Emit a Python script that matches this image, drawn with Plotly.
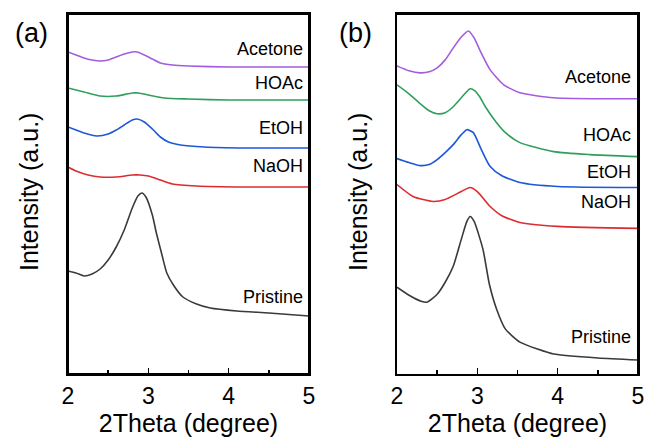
import plotly.graph_objects as go

W, H = 646, 443
names = ["Acetone", "HOAc", "EtOH", "NaOH", "Pristine"]
colors = ["#a35ce0", "#2f9e5e", "#1c58d8", "#dc2c30", "#3a3a3a"]

# ---- panel (a) data (2Theta, intensity a.u.) ----
a_acetone_x = [2.0, 2.1, 2.2, 2.3, 2.4, 2.5, 2.6, 2.7, 2.8, 2.86, 2.95, 3.05, 3.15, 3.3, 3.5, 4.0, 4.5, 5.0]
a_acetone_y = [322, 319, 316, 314, 313, 314, 317, 320, 322, 322, 319, 315, 311, 309, 308, 307, 307, 307]
a_hoac_x = [2.0, 2.2, 2.4, 2.6, 2.8, 2.88, 3.0, 3.2, 3.5, 4.0, 5.0]
a_hoac_y = [286, 282, 278, 278, 281, 281, 279, 276, 275, 274, 274]
a_etoh_x = [2.0, 2.1, 2.2, 2.36, 2.5, 2.6, 2.7, 2.8, 2.86, 2.95, 3.05, 3.15, 3.25, 3.4, 3.7, 4.2, 5.0]
a_etoh_y = [247, 244, 241, 238, 240, 244, 249, 254, 255, 252, 245, 237, 232, 229, 227, 226, 226]
a_naoh_x = [2.0, 2.1, 2.25, 2.4, 2.6, 2.8, 2.9, 3.0, 3.15, 3.3, 3.6, 4.2, 5.0]
a_naoh_y = [207, 203, 199, 197, 197, 199, 199, 198, 194, 190, 188, 187, 187]
a_pristine_x = [2.0, 2.1, 2.2, 2.3, 2.4, 2.5, 2.6, 2.7, 2.8, 2.87, 2.92, 2.97, 3.05, 3.1, 3.17, 3.23, 3.32, 3.43, 3.6, 3.77, 4.1, 4.5, 5.0]
a_pristine_y = [103, 101, 98, 100, 105, 114, 127, 144, 166, 178, 181, 177, 159, 141, 119, 101, 88, 77, 70, 66, 63, 61, 58]

# ---- panel (b) data ----
b_acetone_x = [2.0, 2.15, 2.29, 2.4, 2.5, 2.6, 2.7, 2.8, 2.89, 2.96, 3.03, 3.16, 3.33, 3.53, 3.95, 4.5, 5.0]
b_acetone_y = [309, 304, 302, 303, 307, 315, 327, 338, 344, 337, 325, 305, 290, 282, 277, 276, 276]
b_hoac_x = [2.0, 2.15, 2.29, 2.4, 2.5, 2.6, 2.7, 2.8, 2.91, 2.97, 3.03, 3.1, 3.24, 3.35, 3.53, 3.95, 4.4, 5.0]
b_hoac_y = [290, 281, 271, 264, 261, 262, 268, 277, 286, 284, 278, 268, 252, 242, 232, 223, 220, 218]
b_etoh_x = [2.0, 2.15, 2.29, 2.4, 2.5, 2.6, 2.7, 2.8, 2.87, 2.95, 3.05, 3.16, 3.3, 3.53, 4.0, 5.0]
b_etoh_y = [216, 212, 209, 210, 215, 222, 230, 240, 245, 242, 225, 208, 199, 192, 188, 187]
b_naoh_x = [2.0, 2.2, 2.45, 2.6, 2.8, 2.91, 3.0, 3.16, 3.3, 3.53, 4.0, 5.0]
b_naoh_y = [190, 178, 173, 175, 183, 187, 183, 168, 159, 152, 148, 146]
b_pristine_x = [2.0, 2.15, 2.3, 2.37, 2.5, 2.6, 2.7, 2.8, 2.87, 2.91, 2.96, 3.07, 3.15, 3.24, 3.35, 3.53, 3.75, 3.95, 4.5, 5.0]
b_pristine_y = [87, 79, 73, 72, 80, 92, 108, 135, 153, 158, 153, 125, 90, 65, 45, 32, 25, 20, 16, 14]

# label heights (intensity units)
a_label_y = [325, 291, 246, 208, 77]
b_label_y = [298, 240, 203, 172, 37]

x_ticks = [2, 3, 4, 5]
x_tick_text = ["2", "3", "4", "5"]
x_range = [2, 5]
a_y_range = [0, 360]
b_y_range = [0, 361]

panel_a = [(a_acetone_x, a_acetone_y), (a_hoac_x, a_hoac_y), (a_etoh_x, a_etoh_y),
           (a_naoh_x, a_naoh_y), (a_pristine_x, a_pristine_y)]
panel_b = [(b_acetone_x, b_acetone_y), (b_hoac_x, b_hoac_y), (b_etoh_x, b_etoh_y),
           (b_naoh_x, b_naoh_y), (b_pristine_x, b_pristine_y)]

fig = go.Figure()
for (xs, ys), c, n in zip(panel_a, colors, names):
    fig.add_trace(go.Scatter(x=xs, y=ys, mode="lines", line=dict(color=c, width=1.6, shape="spline", smoothing=0.6),
                             name=n, xaxis="x", yaxis="y", showlegend=False, hoverinfo="skip"))
for (xs, ys), c, n in zip(panel_b, colors, names):
    fig.add_trace(go.Scatter(x=xs, y=ys, mode="lines", line=dict(color=c, width=1.6, shape="spline", smoothing=0.6),
                             name=n, xaxis="x2", yaxis="y2", showlegend=False, hoverinfo="skip"))

font = "Liberation Sans, Arial, sans-serif"
xa = dict(range=x_range, tickvals=x_ticks, ticktext=x_tick_text, ticks="inside", ticklen=6, tickwidth=1.5,
          tickcolor="black", showline=True, linecolor="black", linewidth=2, mirror=True,
          showgrid=False, zeroline=False, tickfont=dict(family=font, size=23, color="black"),
          minor=dict(ticks="inside", ticklen=4, tickwidth=1.5, tickcolor="black", dtick=0.5, showgrid=False),
          title=dict(text="2Theta (degree)", font=dict(family=font, size=25, color="black"), standoff=3))
ya = dict(showticklabels=False, ticks="", showline=True, linecolor="black", linewidth=2, mirror=True,
          showgrid=False, zeroline=False)

# panel rectangles in pixels (left, right, top, bottom)
pa = (68, 309, 14, 374)
pb = (397, 638, 14, 374)
y0 = (H - 374) / H
y1 = (H - 14) / H
fig.update_layout(
    template="none",
    width=W, height=H, margin=dict(l=0, r=0, t=0, b=0, autoexpand=False),
    paper_bgcolor="white", plot_bgcolor="rgba(0,0,0,0)", hovermode=False, dragmode=False,
    font=dict(family=font, color="black"),
    xaxis=dict(xa, domain=[pa[0] / W, pa[1] / W], anchor="y", automargin=False),
    yaxis=dict(ya, domain=[y0, y1], range=a_y_range, anchor="x", automargin=False),
    xaxis2=dict(xa, domain=[pb[0] / W, pb[1] / W], anchor="y2", automargin=False),
    yaxis2=dict(ya, domain=[y0, y1], range=b_y_range, anchor="x2", automargin=False),
)

# explicit frame lines (top and right sides, per panel)
for l, r, t, b in [pa, pb]:
    fig.add_shape(type="line", xref="paper", yref="paper", x0=l / W, x1=r / W, y0=(H - t) / H, y1=(H - t) / H,
                  line=dict(color="black", width=2), layer="above")
    fig.add_shape(type="line", xref="paper", yref="paper", x0=r / W, x1=r / W, y0=(H - b) / H, y1=(H - t) / H,
                  line=dict(color="black", width=2), layer="above")

ann = []
for n, ly in zip(names, a_label_y):
    ann.append(dict(x=4.95, y=ly, xref="x", yref="y", text=n, showarrow=False, xanchor="right", yanchor="middle",
                    font=dict(family=font, size=18, color="black")))
for n, ly in zip(names, b_label_y):
    ann.append(dict(x=4.94, y=ly, xref="x2", yref="y2", text=n, showarrow=False, xanchor="right", yanchor="middle",
                    font=dict(family=font, size=18, color="black")))
for px in [29, 358]:
    ann.append(dict(x=px / W, y=(H - 192) / H, xref="paper", yref="paper", text="Intensity (a.u.)", textangle=-90,
                    showarrow=False, xanchor="center", yanchor="middle",
                    font=dict(family=font, size=25, color="black")))
for txt, px in [("(a)", 31), ("(b)", 355)]:
    ann.append(dict(x=px / W, y=(H - 33) / H, xref="paper", yref="paper", text=txt, showarrow=False,
                    xanchor="center", yanchor="middle", font=dict(family=font, size=27, color="black")))
# frame box for panel (a) drawn as a bordered empty annotation (top layer)
l, r, t, b = pa
ann.append(dict(x=(l + r) / 2 / W, y=(H - (t + b) / 2) / H, xref="paper", yref="paper", text=" ",
                showarrow=False, xanchor="center", yanchor="middle", width=r - l - 2, height=b - t - 2,
                borderpad=0, borderwidth=2, bordercolor="black", bgcolor="rgba(0,0,0,0)",
                font=dict(family=font, size=6, color="black")))
fig.update_layout(annotations=ann)

fig.write_html("out.html", config={"displayModeBar": False, "staticPlot": True},
               post_script="document.body.style.margin='0';document.body.style.padding='0';")
